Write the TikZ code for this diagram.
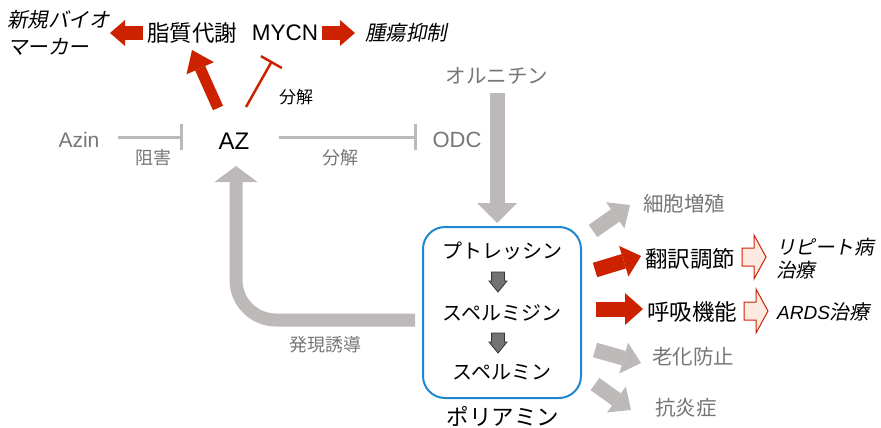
\documentclass[tikz,border=0pt]{standalone}
\usepackage{fontspec}
\setmainfont{Liberation Sans}
\newfontfamily\jp{Noto Sans CJK JP}
\newfontfamily\jpit[FakeSlant=0.2]{Noto Sans CJK JP}
\usetikzlibrary{arrows.meta}
\definecolor{arrgray}{HTML}{BCB9B8}
\definecolor{txtgray}{HTML}{767676}
\definecolor{myred}{HTML}{CC2200}
\definecolor{myblue}{HTML}{1E88CF}
\definecolor{mypink}{HTML}{FDE9DF}
\definecolor{dkarrow}{HTML}{737373}
\newcommand\fsz[1]{\fontsize{#1}{#1}\selectfont}
\begin{document}
\begin{tikzpicture}[x=1pt,y=-1pt,
  txt/.style={inner sep=0pt, text=black},
  gtxt/.style={inner sep=0pt, text=txtgray},
  garrow/.style={draw=arrgray, line width=15pt, -{Triangle[length=18pt,width=32pt,line width=0pt]}},
  rarrow/.style={draw=myred, line width=15pt, -{Triangle[length=18pt,width=32pt,line width=0pt]}},
  inhib/.style={draw=arrgray, line width=3pt, -{Bar[width=26pt,line width=3pt]}},
  hollow/.style={draw=myred, fill=mypink, line width=1pt, line join=miter},
  smallarr/.style={draw=black!80, fill=dkarrow, line width=0.8pt},
  boxstyle/.style={draw=myblue, line width=2pt, rounded corners=22pt, minimum width=158pt, minimum height=171pt, inner sep=0pt}
]
\useasboundingbox (0,0) rectangle (881,428);

% ---- nodes ----
\node[txt, anchor=west, align=left, font={\jpit\fontsize{20.5}{27}\selectfont}] (nbm) at (7,33) {新規バイオ\\マーカー};
\node[txt] (lipid) at (192,33) {\jp\fsz{22.5}脂質代謝};
\node[txt] (mycn) at (285,33) {\fsz{22.5}MYCN};
\node[txt, anchor=west] (tumor) at (365,33) {\jpit\fsz{20.5}腫瘍抑制};
\node[gtxt] (azin) at (79,140) {\fsz{21}Azin};
\node[txt] (az) at (234,141) {\fsz{24}AZ};
\node[gtxt] (odc) at (457,140) {\fsz{22}ODC};
\node[gtxt] (orn) at (497,76) {\jp\fsz{20.5}オルニチン};
\node[boxstyle] (box) at (502,312.5) {};
\node[txt] (put) at (502,251) {\jp\fsz{20}プトレッシン};
\node[txt] (spd) at (502,313) {\jp\fsz{20}スペルミジン};
\node[txt] (spm) at (502,372) {\jp\fsz{20}スペルミン};
\node[txt] (poly) at (503,416) {\jp\fsz{22.5}ポリアミン};
\node[gtxt] (prolif) at (684,204) {\jp\fsz{20.5}細胞増殖};
\node[txt] (trans) at (690,259) {\jp\fsz{22.5}翻訳調節};
\node[txt] (resp) at (692,312) {\jp\fsz{22.5}呼吸機能};
\node[gtxt] (aging) at (693,357) {\jp\fsz{20.5}老化防止};
\node[gtxt] (infl) at (686,408) {\jp\fsz{20.5}抗炎症};
\node[txt, anchor=west, align=left, font={\jpit\fontsize{19.5}{23}\selectfont}] (repeat) at (776,259) {リピート病\\治療};
\node[txt, anchor=west] (ards) at (777,312) {\itshape\fsz{19}ARDS\jpit\fsz{20}治療};
\node[gtxt] (lblinh) at (153,158) {\jp\fsz{18}阻害};
\node[gtxt] (lbldeg) at (340,158) {\jp\fsz{18}分解};
\node[txt] (lblred) at (296,97) {\jp\fsz{17}分解};
\node[gtxt] (lblind) at (325,345) {\jp\fsz{18}発現誘導};

% ---- coordinates ----
\coordinate (rl1) at (143,33);  \coordinate (rl2) at (110,33);
\coordinate (rr1) at (322,33);  \coordinate (rr2) at (355,33);
\coordinate (th1) at (218,108); \coordinate (th2) at (192,50);
\coordinate (tt1) at (246,107); \coordinate (tt2) at (272,61);
\coordinate (in1) at (118,137); \coordinate (in2) at (183,137);
\coordinate (dg1) at (279,137); \coordinate (dg2) at (417,137);
\coordinate (or1) at (497,93);  \coordinate (or2) at (497,223);
\coordinate (pr1) at (593,231); \coordinate (pr2) at (630,205);
\coordinate (tr1) at (595,270); \coordinate (tr2) at (641,256);
\coordinate (re1) at (596,309); \coordinate (re2) at (643,309);
\coordinate (ag1) at (595,350); \coordinate (ag2) at (641,363);
\coordinate (if1) at (595,384); \coordinate (if2) at (631,410);
\coordinate (fbS) at (415,320); \coordinate (fbC) at (236,320); \coordinate (fbE) at (236,166);
\coordinate (h1) at (742,257);  \coordinate (h2) at (744,311);
\coordinate (s1) at (498,272);  \coordinate (s2) at (498,333);

% ---- connectors ----
\draw[rarrow, line width=14pt, -{Triangle[length=15pt,width=26pt,line width=0pt]}] (rl1) -- (rl2);
\draw[rarrow, line width=14pt, -{Triangle[length=15pt,width=26pt,line width=0pt]}] (rr1) -- (rr2);
\draw[rarrow, line width=11pt, -{Triangle[length=20pt,width=30pt,line width=0pt]}] (th1) -- (th2);
\draw[draw=myred, line width=2.5pt, -{Bar[width=24pt,line width=2.5pt]}] (tt1) -- (tt2);
\draw[inhib] (in1) -- (in2);
\draw[inhib] (dg1) -- (dg2);
\draw[garrow, -{Triangle[length=20pt,width=40pt,line width=0pt]}] (or1) -- (or2);
\draw[garrow] (pr1) -- (pr2);
\draw[rarrow] (tr1) -- (tr2);
\draw[rarrow] (re1) -- (re2);
\draw[garrow] (ag1) -- (ag2);
\draw[garrow] (if1) -- (if2);
\draw[garrow, line width=13pt, rounded corners=40pt, -{Triangle[length=16pt,width=43pt,line width=0pt]}] (fbS) -- (fbC) -- (fbE);

\draw[hollow, shift={(h1)}] (0,-9) -- (12,-9) -- (12,-22) -- (24,0) -- (12,22) -- (12,9) -- (0,9) -- cycle;
\draw[hollow, shift={(h2)}] (0,-9) -- (12,-9) -- (12,-22) -- (24,0) -- (12,22) -- (12,9) -- (0,9) -- cycle;
\draw[smallarr, shift={(s1)}] (-6.5,0) -- (6.5,0) -- (6.5,9) -- (9,9) -- (0,20) -- (-9,9) -- (-6.5,9) -- cycle;
\draw[smallarr, shift={(s2)}] (-6.5,0) -- (6.5,0) -- (6.5,9) -- (9,9) -- (0,20) -- (-9,9) -- (-6.5,9) -- cycle;
\end{tikzpicture}
\end{document}
